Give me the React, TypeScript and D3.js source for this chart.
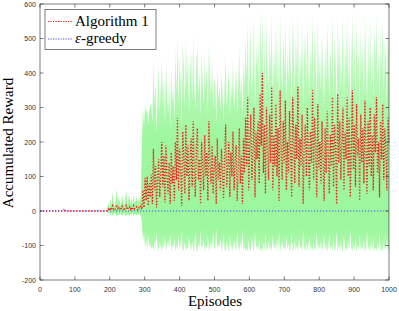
import React from "react";
import * as d3 from "d3";

// episodes: flat start, then sampled every 3 from 190 to 1000
const algEpisodes = [0, 187, ...d3.range(190, 1001, 3)];

// Algorithm 1 mean reward (red dotted)
const algMean = [
  0, 0,
  // 190-289
  0, 2, 6, 1, 10, 3, 15, 5, 2, 8, 18, 4, 12, 6, 3, 14, 7, 2, 10, 16,
  4, 9, 13, 5, 11, 3, 15, 6, 8, 12, 4, 10, 7, 14,
  // 292-1000
  5, 60, 10, 95, 30, 100, 15, 80, 40, 105,
  20, 180, 60, 130, 10, 90, 150, 40, 110, 200,
  70, 160, 25, 190, 100, 50, 140, 20, 170, 80,
  130, 30, 200, 90, 270, 60, 180, 120, 15, 230,
  160, 50, 250, 100, 190, 30, 140, 210, 70, 260,
  110, 40, 180, 240, 90, 150, 20, 200, 130, 60,
  220, 100, 170, 30, 260, 140, 80, 190, 50, 120,
  160, 20, 210, 90, 140, 60, 180, 110, 35, 150,
  250, 70, 130, 200, 40, 170, 100, 230, 60, 140,
  190, 30, 120, 240, 80, 160, 20, 210, 110, 270,
  130, 330, 60, 200, 280, 90, 170, 300, 40, 230,
  150, 260, 80, 340, 190, 400, 110, 250, 50, 300,
  180, 90, 280, 140, 360, 60, 220, 130, 310, 100,
  240, 30, 350, 170, 90, 260, 140, 320, 60, 200,
  110, 290, 170, 40, 330, 220, 80, 250, 150, 360,
  70, 210, 130, 280, 20, 190, 250, 100, 300, 160,
  60, 230, 140, 350, 90, 270, 180, 40, 310, 120,
  200, 80, 260, 150, 30, 240, 110, 290, 170, 50,
  220, 130, 330, 70, 250, 180, 20, 340, 140, 260,
  90, 200, 300, 60, 230, 150, 330, 100, 270, 40,
  180, 350, 120, 250, 70, 310, 160, 210, 30, 280,
  140, 240, 80, 320, 190, 50, 260, 130, 300, 100,
  220, 60, 280, 170, 330, 110, 200, 40, 260, 150,
  310, 90, 240, 180, 60, 270, 200,
];

// upper edge of the green band
const algUpper = [
  0, 0,
  0, 10, 25, 8, 35, 15, 55, 20, 12, 30, 65, 18, 45, 25, 14, 50, 28, 10, 38, 60,
  16, 35, 48, 20, 40, 15, 45, 22, 30, 42, 18, 36, 28, 48,
  200, 300, 240, 310, 280, 300, 250, 290, 310, 300,
  260, 440, 300, 380, 220, 330, 420, 280, 360, 440,
  300, 400, 250, 430, 350, 280, 390, 240, 410, 310,
  370, 260, 470, 340, 510, 300, 450, 380, 250, 490,
  420, 300, 500, 360, 460, 280, 400, 470, 320, 510,
  370, 290, 440, 480, 340, 410, 270, 460, 380, 310,
  460, 350, 420, 280, 490, 390, 330, 440, 300, 370,
  390, 250, 420, 320, 370, 290, 400, 340, 260, 360,
  450, 300, 350, 410, 270, 380, 320, 440, 290, 360,
  420, 280, 360, 480, 330, 400, 270, 450, 350, 510,
  380, 560, 320, 460, 540, 350, 430, 570, 300, 490,
  410, 520, 340, 580, 450, 570, 370, 510, 320, 550,
  440, 350, 530, 400, 580, 320, 480, 390, 560, 360,
  500, 300, 570, 430, 350, 520, 400, 560, 320, 470,
  370, 540, 430, 310, 570, 480, 340, 510, 410, 580,
  330, 470, 390, 540, 300, 450, 520, 360, 560, 420,
  320, 490, 400, 575, 350, 530, 440, 300, 560, 380,
  460, 340, 520, 410, 300, 500, 370, 550, 430, 320,
  480, 390, 570, 330, 510, 440, 290, 580, 400, 520,
  350, 460, 560, 320, 490, 410, 575, 360, 530, 300,
  440, 580, 380, 510, 330, 560, 420, 470, 290, 540,
  400, 500, 340, 570, 450, 310, 520, 390, 560, 360,
  480, 320, 540, 430, 570, 370, 460, 300, 520, 410,
  560, 350, 500, 440, 320, 530, 460,
];

// lower edge of the green band
const algLower = [
  0, 0,
  0, -4, -8, -3, -12, -6, -15, -8, -4, -10, -18, -7, -14, -9, -5, -15, -10, -4, -12, -16,
  -7, -11, -14, -8, -13, -5, -15, -9, -10, -13, -6, -12, -9, -14,
  -30, -90, -60, -110, -80, -115, -70, -105, -95, -112,
  -100, -118, -85, -110, -60, -108, -115, -90, -105, -118,
  -95, -112, -75, -116, -100, -85, -110, -65, -118, -98,
  -108, -80, -118, -100, -115, -70, -110, -95, -60, -116,
  -112, -90, -118, -105, -110, -75, -100, -116, -85, -118,
  -105, -65, -112, -118, -95, -108, -55, -115, -100, -85,
  -118, -100, -110, -70, -116, -105, -90, -112, -60, -108,
  -110, -50, -115, -95, -108, -80, -118, -100, -65, -112,
  -118, -90, -105, -116, -70, -110, -98, -118, -85, -106,
  -112, -60, -100, -118, -90, -110, -55, -116, -102, -118,
  -108, -118, -85, -112, -116, -75, -105, -118, -60, -110,
  -100, -115, -80, -118, -106, -118, -90, -112, -65, -116,
  -110, -85, -118, -100, -116, -70, -112, -95, -118, -80,
  -115, -60, -118, -105, -90, -112, -100, -118, -75, -110,
  -95, -116, -108, -65, -118, -110, -85, -114, -100, -118,
  -80, -112, -100, -118, -55, -108, -116, -90, -118, -102,
  -75, -114, -100, -118, -90, -116, -108, -60, -118, -95,
  -112, -85, -118, -104, -70, -116, -95, -118, -108, -65,
  -114, -100, -118, -80, -116, -110, -60, -118, -98, -115,
  -90, -112, -118, -70, -116, -104, -118, -88, -114, -55,
  -108, -118, -95, -116, -78, -118, -102, -112, -65, -116,
  -100, -114, -85, -118, -110, -60, -116, -98, -118, -90,
  -112, -75, -118, -106, -116, -95, -110, -62, -118, -104,
  -118, -92, -114, -108, -80, -116, -110,
];

// epsilon-greedy stays flat at zero
const greedyEpisodes = [0, 65, 70, 75, 1000];
const greedyReward = [0, 0, 6, 0, 0];

const xTicks = [0, 100, 200, 300, 400, 500, 600, 700, 800, 900, 1000];
const yTicks = [-200, -100, 0, 100, 200, 300, 400, 500, 600];

const W = 399;
const H = 311;
const left = 40, right = 389, top = 4, bottom = 280;

export default function App() {
  const x = d3.scaleLinear().domain([0, 1000]).range([left, right]);
  const y = d3.scaleLinear().domain([-200, 600]).range([bottom, top]);

  const band = d3
    .area<number>()
    .x((_, i) => x(algEpisodes[i]))
    .y0((_, i) => y(algLower[i]))
    .y1((d) => y(d));

  const algLine = d3
    .line<number>()
    .x((_, i) => x(algEpisodes[i]))
    .y((d) => y(d));

  const greedyLine = d3
    .line<number>()
    .x((_, i) => x(greedyEpisodes[i]))
    .y((d) => y(d));

  const axisColor = "#262626";
  const tickFont = "'Liberation Sans', Arial, sans-serif";
  const labelFont = "'Liberation Serif', 'Times New Roman', serif";

  return (
    <svg
      width={W}
      height={H}
      style={{ position: "absolute", left: 0, top: 0, background: "#fff" }}
    >
      <defs>
        {/* spiky tops of the band look paler, the core is denser */}
        <linearGradient id="bandFade" gradientUnits="userSpaceOnUse" x1={0} x2={0} y1={y(580)} y2={y(-120)}>
          <stop offset="0" stopColor="#33ee33" stopOpacity={0.22} />
          <stop offset="0.35" stopColor="#33ee33" stopOpacity={0.38} />
          <stop offset="0.55" stopColor="#33ee33" stopOpacity={0.48} />
          <stop offset="0.9" stopColor="#33ee33" stopOpacity={0.48} />
          <stop offset="1" stopColor="#33ee33" stopOpacity={0.36} />
        </linearGradient>
      </defs>
      <path d={band(algUpper) || ""} fill="url(#bandFade)" stroke="none" />
      <path
        d={algLine(algMean) || ""}
        fill="none"
        stroke="#ff1a1a"
        strokeWidth={1.3}
        strokeDasharray="1.3,1.7"
      />
      <path
        d={greedyLine(greedyReward) || ""}
        fill="none"
        stroke="#4d4dff"
        strokeWidth={1.2}
        strokeDasharray="1.2,1.8"
      />

      {/* axes box */}
      <rect
        x={left}
        y={top}
        width={right - left}
        height={bottom - top}
        fill="none"
        stroke={axisColor}
        strokeWidth={0.6}
      />
      {xTicks.map((t) => (
        <g key={"x" + t}>
          <line x1={x(t)} x2={x(t)} y1={bottom} y2={bottom - 3.5} stroke={axisColor} strokeWidth={0.6} />
          <line x1={x(t)} x2={x(t)} y1={top} y2={top + 3.5} stroke={axisColor} strokeWidth={0.6} />
          <text
            x={x(t)}
            y={292}
            textAnchor="middle"
            fontFamily={tickFont}
            fontSize={7}
            fill="#333"
          >
            {t}
          </text>
        </g>
      ))}
      {yTicks.map((t) => (
        <g key={"y" + t}>
          <line x1={left} x2={left + 3.5} y1={y(t)} y2={y(t)} stroke={axisColor} strokeWidth={0.6} />
          <line x1={right} x2={right - 3.5} y1={y(t)} y2={y(t)} stroke={axisColor} strokeWidth={0.6} />
          <text
            x={36}
            y={y(t) + 2.5}
            textAnchor="end"
            fontFamily={tickFont}
            fontSize={7}
            fill="#333"
          >
            {t}
          </text>
        </g>
      ))}

      <text x={215} y={305.5} textAnchor="middle" fontFamily={labelFont} fontSize={15} fill="#000">
        Episodes
      </text>
      <text
        transform="translate(13,143) rotate(-90)"
        textAnchor="middle"
        fontFamily={labelFont}
        fontSize={15}
        fill="#000"
      >
        Accumulated Reward
      </text>

      {/* legend */}
      <rect x={45} y={9.5} width={111} height={40} fill="#fff" stroke={axisColor} strokeWidth={0.6} />
      <line x1={48} x2={72} y1={21.5} y2={21.5} stroke="#ff1a1a" strokeWidth={1.2} strokeDasharray="1.2,1.3" />
      <text x={75} y={26} fontFamily={labelFont} fontSize={15} fill="#000">
        Algorithm 1
      </text>
      <line x1={48} x2={72} y1={39} y2={39} stroke="#4d4dff" strokeWidth={1.2} strokeDasharray="1.2,1.3" />
      <text x={75} y={43} fontFamily={labelFont} fontSize={15} fill="#000">
        <tspan fontStyle="italic">ε</tspan>-greedy
      </text>
    </svg>
  );
}
